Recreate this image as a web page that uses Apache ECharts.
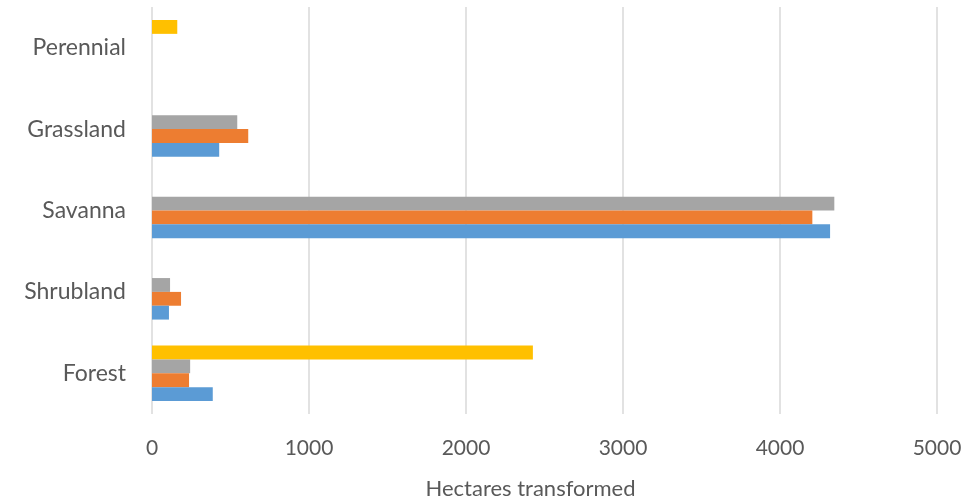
<!DOCTYPE html>
<html>
<head>
<meta charset="utf-8">
<script src="https://cdn.jsdelivr.net/npm/echarts@6/dist/echarts.min.js"></script>
<style>
  html, body {margin: 0; padding: 0; background: #fff;}
  #chart {width: 968px; height: 501px;}
</style>
</head>
<body>
<div id="chart"></div>
<script>
const categories = ['Forest', 'Shrubland', 'Savanna', 'Grassland', 'Perennial'];
const series1 = [387, 108, 4319, 428, 0];
const series2 = [236, 185, 4206, 613, 0];
const series3 = [243, 115, 4346, 543, 0];
const series4 = [2426, 0, 0, 0, 161];
const xTicks = {min: 0, max: 5000, interval: 1000};

const colors = ['#5B9BD5', '#ED7D31', '#A5A5A5', '#FFC000'];
const font = 'Lato, "Open Sans", sans-serif';

const myChart = echarts.init(document.getElementById('chart'));
const bar = (name, data, i) => ({
  name, type: 'bar', data,
  itemStyle: {color: colors[i]},
  barGap: '0%',
  barCategoryGap: '32%',
});
myChart.setOption({
  animation: false,
  grid: {left: 152, right: 31, top: 7, bottom: 87, outerBoundsMode: 'none'},
  xAxis: {
    type: 'value',
    ...xTicks,
    name: 'Hectares transformed',
    nameLocation: 'middle',
    nameGap: 64,
    nameTextStyle: {color: '#595959', fontSize: 22, fontFamily: font, padding: [0, 28, 0, 0]},
    axisLine: {show: false},
    axisTick: {show: false},
    axisLabel: {color: '#595959', fontSize: 21, fontFamily: font, margin: 24, formatter: v => String(v)},
    splitLine: {lineStyle: {color: '#d9d9d9', width: 1.5}},
  },
  yAxis: {
    type: 'category',
    data: categories,
    axisLine: {show: false},
    axisTick: {show: false},
    axisLabel: {color: '#595959', fontSize: 23, fontFamily: font, margin: 26},
  },
  // ECharts stacks the first series at the top of each group
  series: [
    bar('Series 4', series4, 3),
    bar('Series 3', series3, 2),
    bar('Series 2', series2, 1),
    bar('Series 1', series1, 0),
  ],
});
</script>
</body>
</html>
